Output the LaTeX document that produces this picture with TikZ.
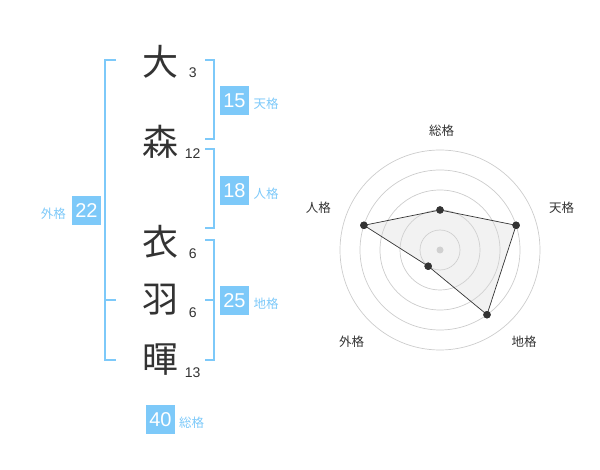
\documentclass[tikz,border=0pt]{standalone}
\usepackage{fontspec}
\setmainfont{Liberation Sans}
\newfontfamily\jp{Noto Sans CJK JP}
\definecolor{accent}{HTML}{7DC9F9}
\definecolor{ink}{HTML}{333333}
\definecolor{ringgray}{HTML}{CCCCCC}
\tikzset{
  kanji/.style={font=\jp\fontsize{36}{36}\selectfont, text=ink, inner sep=0pt},
  stroke/.style={font=\fontsize{14}{14}\selectfont, text=ink, inner sep=0pt},
  valbox/.style={fill=accent, text=white, minimum width=29pt, minimum height=29pt, inner sep=0pt, font=\fontsize{20}{20}\selectfont},
  vallabel/.style={font=\jp\fontsize{12.5}{12.5}\selectfont, text=accent, inner sep=0pt},
  brk/.style={draw=accent, line width=2pt},
  ring/.style={draw=ringgray, line width=0.7pt},
  axislabel/.style={font=\jp\fontsize{12.5}{12.5}\selectfont, text=ink, inner sep=0pt},
  pt/.style={circle, fill=ink, inner sep=0pt, minimum size=7.5pt},
}
\begin{document}
\begin{tikzpicture}[x=1pt,y=-1pt]
\useasboundingbox (0,0) rectangle (600,470);
% kanji and stroke counts
\node[kanji] (k1) at (160,61.7) {大};
\node[kanji] (k2) at (160,141.7) {森};
\node[kanji] (k3) at (160,241.7) {衣};
\node[kanji] (k4) at (160,300) {羽};
\node[kanji] (k5) at (160,360) {暉};
\node[stroke] (s1) at (192.7,72.7) {3};
\node[stroke] (s2) at (192.7,153.3) {12};
\node[stroke] (s3) at (192.7,253.3) {6};
\node[stroke] (s4) at (192.7,312.7) {6};
\node[stroke] (s5) at (192.7,372.7) {13};
% brackets
\draw[brk] (116,60) -- (105,60) -- (105,360) -- (116,360);
\draw[brk] (105,300) -- (116,300);
\draw[brk] (205,60) -- (214.3,60) -- (214.3,139.3) -- (205,139.3);
\draw[brk] (205,149.3) -- (214.3,149.3) -- (214.3,228.3) -- (205,228.3);
\draw[brk] (205,240) -- (214.3,240) -- (214.3,360) -- (205,360);
\draw[brk] (205,300) -- (214.3,300);
% value boxes
\node[valbox] (v15) at (234.5,100.5) {15};
\node[vallabel] (l15) at (266,104) {天格};
\node[valbox] (v18) at (234.5,190.2) {18};
\node[vallabel] (l18) at (266,194) {人格};
\node[valbox] (v22) at (86.5,210.2) {22};
\node[vallabel] (l22) at (53.3,214) {外格};
\node[valbox] (v25) at (234.5,300.2) {25};
\node[vallabel] (l25) at (266,304) {地格};
\node[valbox] (v40) at (160.5,419.2) {40};
\node[vallabel] (l40) at (191.7,422.7) {総格};
% radar
\coordinate (c) at (440,250);
\foreach \r in {20,40,60,80,100} \draw[ring] (c) circle[radius=\r];
\node[circle, fill=ringgray, inner sep=0pt, minimum size=7pt] (cdot) at (c) {};
\node[pt] (p1) at (440,210) {};
\node[pt] (p2) at (516.1,225.3) {};
\node[pt] (p3) at (487.0,314.7) {};
\node[pt] (p4) at (428.2,266.2) {};
\node[pt] (p5) at (363.9,225.3) {};
\fill[black!15, opacity=0.35] (p1.center) -- (p2.center) -- (p3.center) -- (p4.center) -- (p5.center) -- cycle;
\draw[ink, line width=0.7pt] (p1.center) -- (p2.center) -- (p3.center) -- (p4.center) -- (p5.center) -- cycle;
\foreach \p in {p1,p2,p3,p4,p5} \fill[ink] (\p) circle[radius=3.7];
\node[axislabel] (a1) at (441.5,130.5) {総格};
\node[axislabel] (a2) at (561.7,208) {天格};
\node[axislabel] (a3) at (524,341.7) {地格};
\node[axislabel] (a4) at (351.7,341.7) {外格};
\node[axislabel] (a5) at (318.3,208) {人格};
\end{tikzpicture}
\end{document}
